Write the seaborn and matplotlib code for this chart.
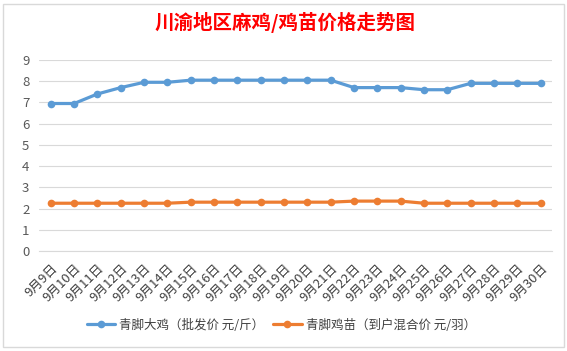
import pandas as pd
import numpy as np
import seaborn as sns
import matplotlib.pyplot as plt
from matplotlib.patches import Rectangle

# data
dates = ['9月%d日' % d for d in range(9, 31)]
big_chicken = [6.95, 6.95, 7.4, 7.7, 7.95, 7.95, 8.05, 8.05, 8.05, 8.05, 8.05,
               8.05, 8.05, 7.7, 7.7, 7.7, 7.6, 7.6, 7.9, 7.9, 7.9, 7.9]
chick = [2.25, 2.25, 2.25, 2.25, 2.25, 2.25, 2.3, 2.3, 2.3, 2.3, 2.3,
         2.3, 2.3, 2.35, 2.35, 2.35, 2.25, 2.25, 2.25, 2.25, 2.25, 2.25]
series_names = ['青脚大鸡（批发价 元/斤）', '青脚鸡苗（到户混合价 元/羽）']
title = '川渝地区麻鸡/鸡苗价格走势图'

df = pd.DataFrame({
    'date': dates * 2,
    'price': big_chicken + chick,
    'series': [series_names[0]] * len(dates) + [series_names[1]] * len(dates),
})
df['pos'] = df.groupby('series').cumcount()

sns.set_style('white')
plt.rcParams['font.family'] = ['Noto Sans CJK SC', 'DejaVu Sans']

fig = plt.figure(figsize=(5.67, 3.51), dpi=100)
ax = fig.add_axes([0.069, 0.285, 0.905, 0.544])

sns.lineplot(data=df, x='pos', y='price', hue='series', palette=['#5B9BD5', '#ED7D31'],
             marker='o', markersize=5.5, markeredgewidth=0, linewidth=2.3, ax=ax, legend=True)

ax.set_xlim(-0.5, len(dates) - 0.5)
ax.set_ylim(0, 9)
ax.set_yticks(range(0, 10))
ax.yaxis.grid(True, color='#D9D9D9', linewidth=0.8)
ax.set_axisbelow(True)
ax.tick_params(axis='y', length=0, labelsize=9.5, labelcolor='#595959', pad=7)

# category boundaries get tick marks, labels sit at centres
ax.set_xticks(np.arange(-0.5, len(dates)), labels=[])
ax.set_xticks(np.arange(len(dates)), labels=dates, minor=True)
ax.tick_params(axis='x', which='major', length=5, color='#D9D9D9', width=0.8)
ax.tick_params(axis='x', which='minor', length=0, labelsize=9.3, labelcolor='#404040', pad=8)
for lbl in ax.get_xticklabels(minor=True):
    lbl.set_rotation(45)
    lbl.set_ha('right')
    lbl.set_rotation_mode('anchor')

for s in ['left', 'right', 'top']:
    ax.spines[s].set_visible(False)
ax.spines['bottom'].set_color('#D9D9D9')
ax.spines['bottom'].set_linewidth(0.8)
ax.set_xlabel('')
ax.set_ylabel('')

handles, labels = ax.get_legend_handles_labels()
ax.legend_.remove()
fig.legend(handles, labels, loc='center', bbox_to_anchor=(0.496, 0.074), ncol=2,
           frameon=False, fontsize=9, labelcolor='#404040', handlelength=2.3,
           handletextpad=0.3, columnspacing=0.7)

fig.text(0.503, 0.935, title, ha='center', va='center', color='red', fontsize=14,
         fontweight='bold')

# chart frame like the spreadsheet chart object
fig.patches.append(Rectangle((0.006, 0.012), 0.988, 0.976, transform=fig.transFigure,
                             fill=False, edgecolor='#D9D9D9', linewidth=1))

fig.savefig('out.png', dpi=100, facecolor='white')
